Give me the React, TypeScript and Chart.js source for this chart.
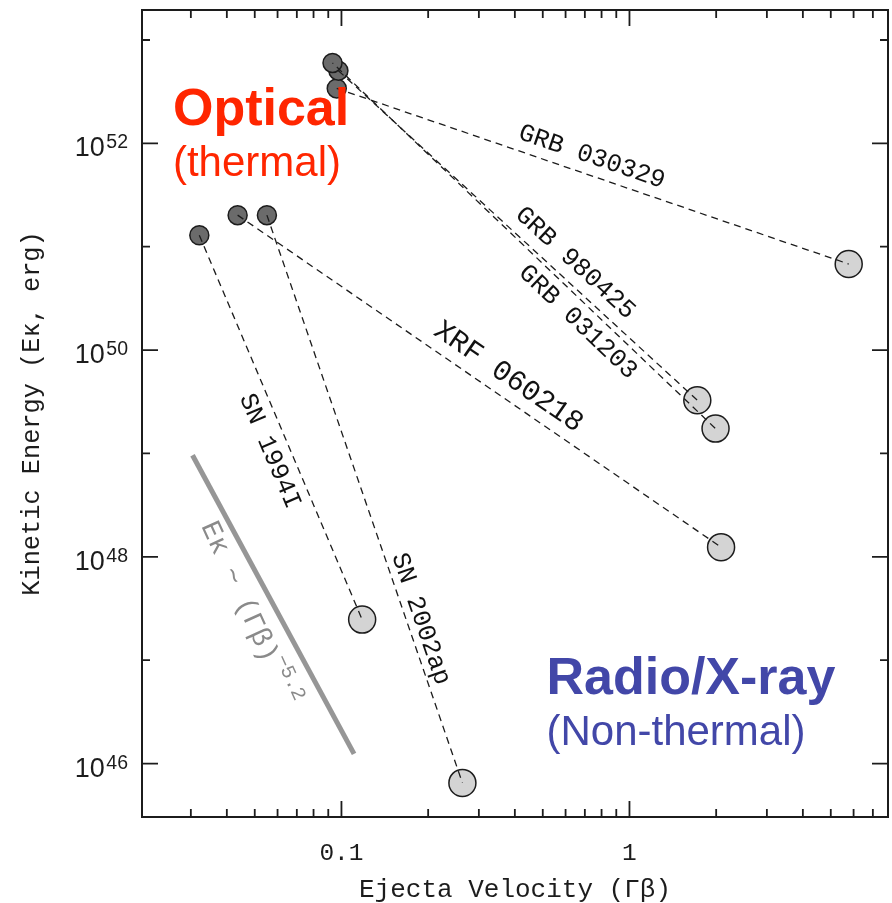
import React, { useEffect, useRef } from "react";
import { Chart, registerables } from "chart.js";

Chart.register(...registerables);

// ---------------- data ----------------
const events = ["GRB 030329", "GRB 980425", "GRB 031203", "XRF 060218", "SN 1994I", "SN 2002ap"];
// optical (thermal) ejecta
const opticalVelocity = [0.0963, 0.0976, 0.0931, 0.0436, 0.0321, 0.0551];
const opticalEnergy = [3.4e52, 5.05e52, 6.0e52, 2.02e51, 1.29e51, 2.02e51];
// radio / X-ray (non-thermal) ejecta
const radioVelocity = [5.77, 1.72, 1.99, 2.08, 0.118, 0.263];
const radioEnergy = [6.8e50, 3.27e49, 1.74e49, 1.24e48, 2.47e47, 6.5e45];
// E_K ~ (Γβ)^-5.2 guide line
const slopeVelocity = [0.0304, 0.1106];
const slopeEnergy = [9.6e48, 1.24e46];
// axes
const xTickValues = [0.1, 1];
const xTickLabels = ["0.1", "1"];
const yLabelExponents = [46, 48, 50, 52];
const X_MIN = 0.0203;
const X_MAX = 7.9;
const Y_MIN = Math.pow(10, 45.483);
const Y_MAX = Math.pow(10, 53.29);

// ---------------- layout / style ----------------
const INK = "#1c1c1c";
const MONO = "'Liberation Mono', 'DejaVu Sans Mono', monospace";
const SANS = "'Liberation Sans', Arial, sans-serif";
const RED = "#ff2600";
const BLUE = "#4247a8";
const labelAlong = [0.487, 0.625, 0.673, 0.537, 0.542, 0.719];
const labelOffset = [18, 18.5, -18, 20, -19.4, 14];
const labelSize = [25.5, 25.5, 25.5, 29, 25.5, 25.5];

const annotationPlugin = {
  id: "annotations",
  afterDraw(chart: any) {
    const { ctx, chartArea: a, scales } = chart;
    const x = scales.x;
    const y = scales.y;
    ctx.save();

    // frame
    ctx.strokeStyle = INK;
    ctx.lineWidth = 2;
    ctx.strokeRect(a.left, a.top, a.right - a.left, a.bottom - a.top);

    // inward tick marks on all four sides
    ctx.lineWidth = 1.8;
    ctx.beginPath();
    for (let e = -2; e <= 1; e++) {
      for (let m = 1; m <= 9; m++) {
        const v = m * Math.pow(10, e);
        if (v <= x.min || v >= x.max) continue;
        const px = x.getPixelForValue(v);
        const len = m === 1 ? 16 : 8;
        ctx.moveTo(px, a.bottom);
        ctx.lineTo(px, a.bottom - len);
        ctx.moveTo(px, a.top);
        ctx.lineTo(px, a.top + len);
      }
    }
    for (let e = 44; e <= 54; e++) {
      const v = Math.pow(10, e);
      if (v <= y.min || v >= y.max) continue;
      const py = y.getPixelForValue(v);
      const len = e % 2 === 0 ? 16 : 8;
      ctx.moveTo(a.left, py);
      ctx.lineTo(a.left + len, py);
      ctx.moveTo(a.right, py);
      ctx.lineTo(a.right - len, py);
    }
    ctx.stroke();

    // y tick labels 10^n
    ctx.fillStyle = INK;
    ctx.textAlign = "right";
    ctx.textBaseline = "alphabetic";
    yLabelExponents.forEach((ex) => {
      const py = y.getPixelForValue(Math.pow(10, ex));
      const right = a.left - 14;
      ctx.font = `19.5px ${SANS}`;
      const sup = String(ex);
      const w = ctx.measureText(sup).width;
      ctx.fillText(sup, right, py + 5);
      ctx.font = `27px ${SANS}`;
      ctx.fillText("10", right - w - 1.5, py + 13);
    });

    // event labels along the connecting lines
    ctx.fillStyle = "#111";
    ctx.textAlign = "center";
    ctx.textBaseline = "middle";
    events.forEach((name, i) => {
      const x0 = x.getPixelForValue(opticalVelocity[i]);
      const y0 = y.getPixelForValue(opticalEnergy[i]);
      const x1 = x.getPixelForValue(radioVelocity[i]);
      const y1 = y.getPixelForValue(radioEnergy[i]);
      const dx = x1 - x0;
      const dy = y1 - y0;
      const len = Math.hypot(dx, dy);
      const ux = dx / len;
      const uy = dy / len;
      const t = labelAlong[i];
      const off = labelOffset[i];
      const cx = x0 + dx * t + uy * off;
      const cy = y0 + dy * t - ux * off;
      ctx.save();
      ctx.translate(cx, cy);
      ctx.rotate(Math.atan2(dy, dx));
      ctx.font = `${labelSize[i]}px ${MONO}`;
      ctx.fillText(name, 0, 0);
      ctx.restore();
    });

    // slope label
    {
      const x0 = x.getPixelForValue(slopeVelocity[0]);
      const y0 = y.getPixelForValue(slopeEnergy[0]);
      const x1 = x.getPixelForValue(slopeVelocity[1]);
      const y1 = y.getPixelForValue(slopeEnergy[1]);
      const dx = x1 - x0;
      const dy = y1 - y0;
      const len = Math.hypot(dx, dy);
      const ux = dx / len;
      const uy = dy / len;
      const t = 0.489;
      const off = -24;
      const cx = x0 + dx * t + uy * off;
      const cy = y0 + dy * t - ux * off;
      ctx.save();
      ctx.translate(cx, cy);
      ctx.rotate(Math.atan2(dy, dx) + 0.07);
      ctx.fillStyle = "#8a8a8a";
      ctx.textAlign = "left";
      ctx.textBaseline = "alphabetic";
      const main = "Eκ ~ (Γβ)";
      const sup = "−5.2";
      ctx.font = `28px ${MONO}`;
      const wm = ctx.measureText(main).width;
      ctx.font = `20px ${MONO}`;
      const ws = ctx.measureText(sup).width;
      const start = -(wm + ws) / 2;
      ctx.font = `28px ${MONO}`;
      ctx.fillText(main, start, 9);
      ctx.font = `20px ${MONO}`;
      ctx.fillText(sup, start + wm, -4);
      ctx.restore();
    }

    // region labels
    ctx.textAlign = "left";
    ctx.textBaseline = "alphabetic";
    const put = (text: string, font: string, color: string, xv: number, yv: number) => {
      ctx.font = font;
      ctx.fillStyle = color;
      ctx.fillText(text, x.getPixelForValue(xv), y.getPixelForValue(yv));
    };
    put("Optical", `bold 52px ${SANS}`, RED, 0.026, 1.5e52);
    put("(thermal)", `42px ${SANS}`, RED, 0.026, 4.8e51);
    put("Radio/X-ray", `bold 52px ${SANS}`, BLUE, 0.515, 4.72e46);
    put("(Non-thermal)", `42px ${SANS}`, BLUE, 0.515, 1.5e46);

    ctx.restore();
  },
};

export default function App() {
  const canvasRef = useRef<HTMLCanvasElement | null>(null);

  useEffect(() => {
    document.body.style.margin = "0";
    const canvas = canvasRef.current;
    if (!canvas) return;

    const connectors = events.map((name, i) => ({
      label: name,
      data: [
        { x: opticalVelocity[i], y: opticalEnergy[i] },
        { x: radioVelocity[i], y: radioEnergy[i] },
      ],
      showLine: true,
      borderColor: INK,
      borderWidth: 1.3,
      borderDash: [7, 5],
      borderDashOffset: i === 2 ? 6 : 0,
      pointRadius: 0,
      order: 0,
    }));

    const chart = new Chart(canvas, {
      type: "scatter",
      data: {
        datasets: [
          ...connectors,
          {
            label: "slope",
            data: slopeVelocity.map((v, i) => ({ x: v, y: slopeEnergy[i] })),
            showLine: true,
            borderColor: "#969696",
            borderWidth: 5,
            pointRadius: 0,
            order: 0,
          },
          {
            label: "optical",
            data: opticalVelocity.map((v, i) => ({ x: v, y: opticalEnergy[i] })),
            pointRadius: 9.5,
            backgroundColor: "#6b6b6b",
            borderColor: INK,
            borderWidth: 1.5,
            order: 1,
          },
          {
            label: "radio",
            data: radioVelocity.map((v, i) => ({ x: v, y: radioEnergy[i] })),
            pointRadius: 13.5,
            backgroundColor: "#d4d4d4",
            borderColor: INK,
            borderWidth: 1.5,
            order: 1,
          },
        ],
      },
      options: {
        animation: false,
        responsive: false,
        devicePixelRatio: 1,
        layout: { autoPadding: false, padding: { left: 0, right: 4, top: 10, bottom: 0 } },
        plugins: { legend: { display: false }, tooltip: { enabled: false } },
        scales: {
          x: {
            type: "logarithmic",
            position: "bottom",
            min: X_MIN,
            max: X_MAX,
            grid: { display: false, drawTicks: false },
            border: { display: false },
            afterBuildTicks: (s: any) => {
              s.ticks = xTickValues.map((v) => ({ value: v }));
            },
            afterFit: (s: any) => {
              s.height = 86;
            },
            ticks: {
              autoSkip: false,
              maxRotation: 0,
              padding: 22,
              color: INK,
              font: { family: MONO, size: 24.5 },
              callback: (v: any) => {
                const i = xTickValues.indexOf(Number(v));
                return i >= 0 ? xTickLabels[i] : "";
              },
            },
            title: {
              display: true,
              text: "Ejecta Velocity (Γβ)",
              color: INK,
              font: { family: MONO, size: 26, lineHeight: 1 },
              padding: { top: 0, bottom: 0 },
            },
          },
          y: {
            type: "logarithmic",
            position: "left",
            min: Y_MIN,
            max: Y_MAX,
            grid: { display: false, drawTicks: false },
            border: { display: false },
            afterFit: (s: any) => {
              s.width = 142;
            },
            ticks: { display: false },
            title: {
              display: true,
              text: "Kinetic Energy (Eκ, erg)",
              color: INK,
              font: { family: MONO, size: 25.3, lineHeight: 1 },
              padding: { top: 20, bottom: 0 },
            },
          },
        },
      } as any,
      plugins: [annotationPlugin],
    });

    return () => chart.destroy();
  }, []);

  return (
    <div style={{ width: 892, height: 903 }}>
      <canvas ref={canvasRef} width={892} height={903} style={{ display: "block" }} />
    </div>
  );
}
